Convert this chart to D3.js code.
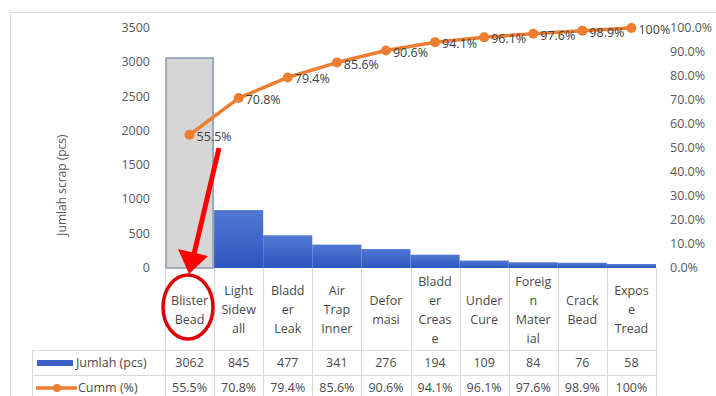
<!DOCTYPE html>
<html>
<head>
<meta charset="utf-8">
<script src="https://cdn.jsdelivr.net/npm/d3@7/dist/d3.min.js"></script>
<style>
  body { margin: 0; background: #fff; }
  svg text { font-family: "Open Sans", "Noto Sans", sans-serif; fill: #595959; }
  .tick-l, .tick-r { font-size: 12.5px; }
  .cell { font-size: 12.5px; fill: #4a4a4a; }
</style>
</head>
<body>
<div id="chart"></div>
<script>
// Pareto chart - scrap per defect type
const categories = [
  ["Blister", "Bead"], ["Light", "Sidew", "all"], ["Bladd", "er", "Leak"],
  ["Air", "Trap", "Inner"], ["Defor", "masi"], ["Bladd", "er", "Creas", "e"],
  ["Under", "Cure"], ["Foreig", "n", "Mater", "ial"], ["Crack", "Bead"],
  ["Expos", "e", "Tread"]
];
const jumlah = [3062, 845, 477, 341, 276, 194, 109, 84, 76, 58];
const cumm = [55.5, 70.8, 79.4, 85.6, 90.6, 94.1, 96.1, 97.6, 98.9, 100];
const leftTicks = [0, 500, 1000, 1500, 2000, 2500, 3000, 3500];
const rightTicks = [0, 10, 20, 30, 40, 50, 60, 70, 80, 90, 100];

const W = 716, H = 396;
const plot = { left: 165, right: 656, top: 28, bottom: 268 };

const svg = d3.select("#chart").append("svg")
  .attr("width", W).attr("height", H);

// gradient for blue bars
const defs = svg.append("defs");
const grad = defs.append("linearGradient")
  .attr("id", "blueGrad").attr("x1", 0).attr("y1", 0).attr("x2", 0).attr("y2", 1);
grad.append("stop").attr("offset", "0%").attr("stop-color", "#5079d3");
grad.append("stop").attr("offset", "100%").attr("stop-color", "#2d55c0");

// outer frame
svg.append("rect")
  .attr("x", 10.5).attr("y", 12.5).attr("width", W).attr("height", H)
  .attr("fill", "none").attr("stroke", "#d9d9d9");

// SCALES
const x = d3.scaleBand()
  .domain(d3.range(categories.length))
  .range([plot.left, plot.right])
  .padding(0);

const y = d3.scaleLinear().domain([0, 3500]).range([plot.bottom, plot.top]);
const yR = d3.scaleLinear().domain([0, 100]).range([plot.bottom, plot.top]);

// Left axis labels
svg.append("g").selectAll("text")
  .data(leftTicks).join("text")
  .attr("class", "tick-l")
  .attr("x", 150).attr("y", d => y(d) + 4)
  .attr("text-anchor", "end")
  .text(d => d);

// Right axis labels
svg.append("g").selectAll("text")
  .data(rightTicks).join("text")
  .attr("class", "tick-r")
  .attr("x", 670).attr("y", d => yR(d) + 4)
  .text(d => d.toFixed(1) + "%");

// Y axis title
svg.append("text")
  .attr("transform", "translate(66,185) rotate(-90)")
  .attr("text-anchor", "middle")
  .style("font-size", "12px")
  .text("Jumlah scrap (pcs)");

// BARS
svg.append("g").selectAll("rect")
  .data(jumlah).join("rect")
  .attr("x", (d, i) => x(i) + (i === 0 ? 1 : 0))
  .attr("width", (d, i) => x.bandwidth() - (i === 0 ? 2 : 0))
  .attr("y", d => y(d))
  .attr("height", d => y(0) - y(d))
  .attr("fill", (d, i) => i === 0 ? "#d6d6d6" : "url(#blueGrad)")
  .attr("stroke", (d, i) => i === 0 ? "#8497b0" : "none")
  .attr("stroke-width", 1.5);

// CUMULATIVE LINE
const line = d3.line()
  .x((d, i) => x(i) + x.bandwidth() / 2)
  .y(d => yR(d));

svg.append("path")
  .datum(cumm)
  .attr("d", line)
  .attr("fill", "none")
  .attr("stroke", "#ed7d31")
  .attr("stroke-width", 3.5)
  .attr("stroke-linejoin", "round");

svg.append("g").selectAll("circle")
  .data(cumm).join("circle")
  .attr("cx", (d, i) => x(i) + x.bandwidth() / 2)
  .attr("cy", d => yR(d))
  .attr("r", 5)
  .attr("fill", "#ed7d31");

const fmt = d => d === 100 ? "100%" : d.toFixed(1) + "%";

svg.append("g").selectAll("text")
  .data(cumm).join("text")
  .attr("x", (d, i) => x(i) + x.bandwidth() / 2 + 7)
  .attr("y", d => yR(d) + 6)
  .style("font-size", "12.5px")
  .style("fill", "#404040")
  .text(fmt);

// DATA TABLE
const tableTop = plot.bottom, row1 = 350, row2 = 375, tableBottom = 400;
const grid = svg.append("g").attr("stroke", "#d9d9d9").attr("stroke-width", 1);

// vertical lines at column boundaries
const bounds = d3.range(categories.length + 1).map(i =>
  i < categories.length ? x(i) : x(categories.length - 1) + x.bandwidth());
grid.selectAll("line.v")
  .data(bounds).join("line")
  .attr("x1", d => Math.round(d) + 0.5).attr("x2", d => Math.round(d) + 0.5)
  .attr("y1", tableTop).attr("y2", tableBottom);

// left edge of legend cells
grid.append("line")
  .attr("x1", 32.5).attr("x2", 32.5).attr("y1", row1).attr("y2", tableBottom);

[row1, row2].forEach(r => {
  grid.append("line")
    .attr("x1", 32).attr("x2", plot.right)
    .attr("y1", r + 0.5).attr("y2", r + 0.5);
});

// category header cells
const lineH = 19;
categories.forEach((lines, i) => {
  const cx = x(i) + x.bandwidth() / 2;
  const startY = 310 - (lines.length - 1) * lineH / 2 + 4;
  const t = svg.append("text")
    .attr("class", "cell")
    .attr("text-anchor", "middle");
  lines.forEach((s, k) => {
    t.append("tspan").attr("x", cx).attr("y", startY + k * lineH).text(s);
  });
});

// value rows
svg.append("g").selectAll("text")
  .data(jumlah).join("text")
  .attr("class", "cell")
  .attr("x", (d, i) => x(i) + x.bandwidth() / 2)
  .attr("y", 367)
  .attr("text-anchor", "middle")
  .text(d => d);

svg.append("g").selectAll("text")
  .data(cumm).join("text")
  .attr("class", "cell")
  .attr("x", (d, i) => x(i) + x.bandwidth() / 2)
  .attr("y", 392)
  .attr("text-anchor", "middle")
  .text(fmt);

// legend keys
svg.append("rect")
  .attr("x", 37).attr("y", 360).attr("width", 36).attr("height", 6)
  .attr("fill", "#3a62c8");
svg.append("text").attr("class", "cell")
  .attr("x", 76).attr("y", 367).text("Jumlah (pcs)");

svg.append("line")
  .attr("x1", 36).attr("x2", 77).attr("y1", 388).attr("y2", 388)
  .attr("stroke", "#ed7d31").attr("stroke-width", 3.5);
svg.append("circle").attr("cx", 57).attr("cy", 388).attr("r", 4).attr("fill", "#ed7d31");
svg.append("text").attr("class", "cell")
  .attr("x", 78).attr("y", 392).text("Cumm (%)");

// ANNOTATION: red arrow and circle
svg.append("line")
  .attr("x1", 219).attr("y1", 148)
  .attr("x2", 194).attr("y2", 254)
  .attr("stroke", "#ff0000").attr("stroke-width", 5);

svg.append("path")
  .attr("d", "M178,249 L208,256 L189,274 Z")
  .attr("fill", "#ff0000");

svg.append("ellipse")
  .attr("cx", 188).attr("cy", 307).attr("rx", 25).attr("ry", 32)
  .attr("fill", "none").attr("stroke", "#e00000").attr("stroke-width", 3.5);
</script>
</body>
</html>
